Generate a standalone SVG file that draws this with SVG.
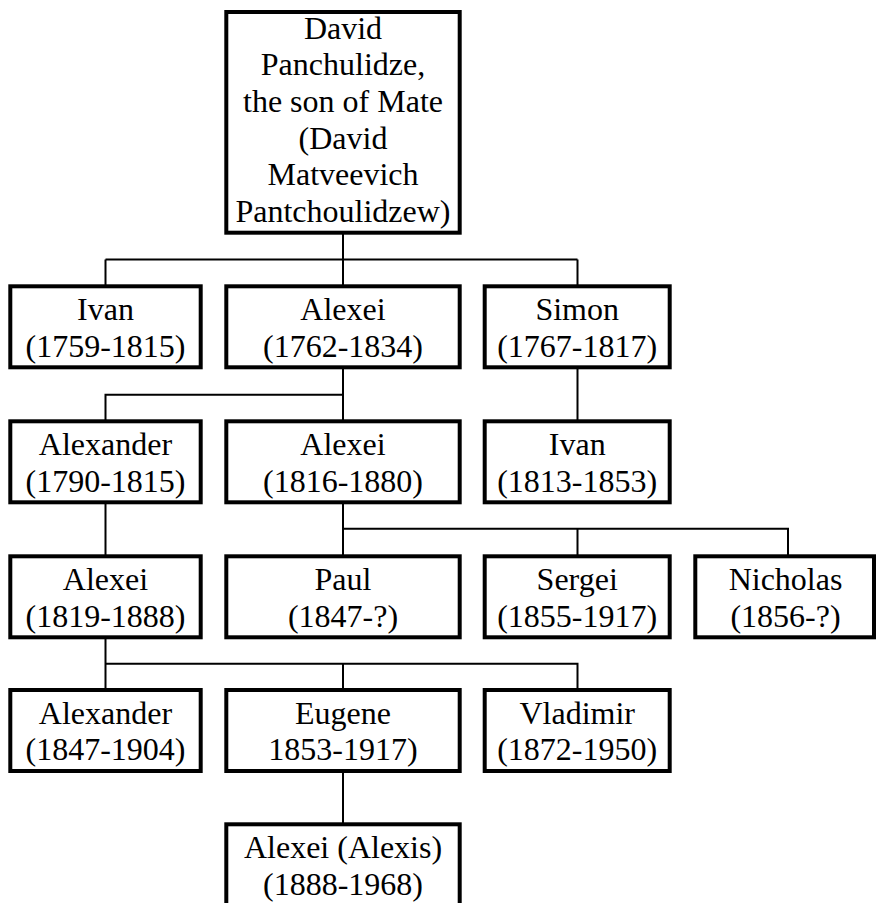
<svg xmlns="http://www.w3.org/2000/svg" width="877" height="903" viewBox="0 0 877 903" font-family="'Liberation Serif', 'Times New Roman', Times, serif">
<style>
.box{fill:#fff;stroke:#000;stroke-width:4}
.t{font-family:'Liberation Serif','Times New Roman',Times,serif;font-size:32px;fill:#000;text-anchor:middle}
.c{fill:none;stroke:#000;stroke-width:2}
</style>
<rect width="877" height="903" fill="#fff"/>
<g id="connectors">
<path class="c" d="M343,234 V259.5 M105.5,259.5 H577.5 M105.5,259.5 V285 M343,259.5 V285 M577.5,259.5 V285"/>
<path class="c" d="M343,369 V394.7 H105.5 V420 M343,394.7 V420 M577.5,369 V420"/>
<path class="c" d="M343,504 V528.7 H788 V555 M343,528.7 V555 M577.5,528.7 V555 M105.5,504 V555"/>
<path class="c" d="M105.5,638.5 V663.7 H577.5 V688 M105.5,663.7 V688 M343,663.7 V688"/>
<path class="c" d="M343,773 V823"/>
</g>
<g id="n-david">
<rect class="box" x="226.3" y="12" width="233.4" height="220.7"/>
<text class="t" x="343" y="38.5">David</text>
<text class="t" x="343" y="75.2">Panchulidze,</text>
<text class="t" x="343" y="111.9">the son of Mate</text>
<text class="t" x="343" y="148.6">(David</text>
<text class="t" x="343" y="185.3">Matveevich</text>
<text class="t" x="343" y="222">Pantchoulidzew)</text>
</g>
<g id="n-ivan1">
<rect class="box" x="10.3" y="286.3" width="190.4" height="81"/>
<text class="t" x="105.5" y="320">Ivan</text>
<text class="t" x="105.5" y="356.7">(1759-1815)</text>
</g>
<g id="n-alexei1">
<rect class="box" x="226.3" y="286.3" width="233.4" height="81"/>
<text class="t" x="343" y="320">Alexei</text>
<text class="t" x="343" y="356.7">(1762-1834)</text>
</g>
<g id="n-simon">
<rect class="box" x="484.7" y="286.3" width="185" height="81"/>
<text class="t" x="577.2" y="320">Simon</text>
<text class="t" x="577.2" y="356.7">(1767-1817)</text>
</g>
<g id="n-alexander1">
<rect class="box" x="10.3" y="421.3" width="190.4" height="81"/>
<text class="t" x="105.5" y="455">Alexander</text>
<text class="t" x="105.5" y="491.7">(1790-1815)</text>
</g>
<g id="n-alexei2">
<rect class="box" x="226.3" y="421.3" width="233.4" height="81"/>
<text class="t" x="343" y="455">Alexei</text>
<text class="t" x="343" y="491.7">(1816-1880)</text>
</g>
<g id="n-ivan2">
<rect class="box" x="484.7" y="421.3" width="185" height="81"/>
<text class="t" x="577.2" y="455">Ivan</text>
<text class="t" x="577.2" y="491.7">(1813-1853)</text>
</g>
<g id="n-alexei3">
<rect class="box" x="10.3" y="556.3" width="190.4" height="81"/>
<text class="t" x="105.5" y="590">Alexei</text>
<text class="t" x="105.5" y="626.7">(1819-1888)</text>
</g>
<g id="n-paul">
<rect class="box" x="226.3" y="556.3" width="233.4" height="81"/>
<text class="t" x="343" y="590">Paul</text>
<text class="t" x="343" y="626.7">(1847-?)</text>
</g>
<g id="n-sergei">
<rect class="box" x="484.7" y="556.3" width="185" height="81"/>
<text class="t" x="577.2" y="590">Sergei</text>
<text class="t" x="577.2" y="626.7">(1855-1917)</text>
</g>
<g id="n-nicholas">
<rect class="box" x="695.3" y="556.3" width="178.7" height="81"/>
<text class="t" x="785.5" y="590">Nicholas</text>
<text class="t" x="785.5" y="626.7">(1856-?)</text>
</g>
<g id="n-alexander2">
<rect class="box" x="10.3" y="690" width="190.4" height="81"/>
<text class="t" x="105.5" y="723.7">Alexander</text>
<text class="t" x="105.5" y="760.4">(1847-1904)</text>
</g>
<g id="n-eugene">
<rect class="box" x="226.3" y="690" width="233.4" height="81"/>
<text class="t" x="343" y="723.7">Eugene</text>
<text class="t" x="343" y="760.4">1853-1917)</text>
</g>
<g id="n-vladimir">
<rect class="box" x="484.7" y="690" width="185" height="81"/>
<text class="t" x="577.2" y="723.7">Vladimir</text>
<text class="t" x="577.2" y="760.4">(1872-1950)</text>
</g>
<g id="n-alexei4">
<rect class="box" x="226.3" y="824.3" width="233.4" height="84"/>
<text class="t" x="343" y="858">Alexei (Alexis)</text>
<text class="t" x="343" y="894.7">(1888-1968)</text>
</g>
</svg>
